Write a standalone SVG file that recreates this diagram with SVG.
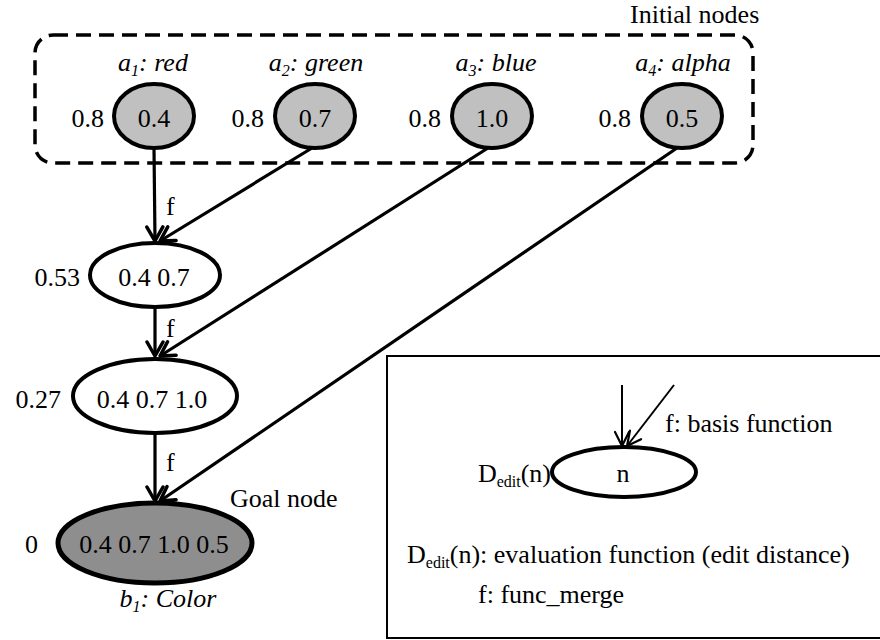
<svg xmlns="http://www.w3.org/2000/svg" width="880" height="640" viewBox="0 0 880 640" font-family="Liberation Serif" font-size="26">
  <defs>
    <marker id="head" markerUnits="userSpaceOnUse" markerWidth="30" markerHeight="30" refX="16" refY="10" orient="auto">
      <path d="M2,2 L16,10 L2,18" fill="none" stroke="#000" stroke-width="3.5" stroke-linecap="round" stroke-linejoin="round"/>
    </marker>
    <marker id="headThin" markerUnits="userSpaceOnUse" markerWidth="30" markerHeight="30" refX="16" refY="10" orient="auto">
      <path d="M2,3 L16,10 L2,17" fill="none" stroke="#000" stroke-width="2.2" stroke-linecap="round" stroke-linejoin="round"/>
    </marker>
  </defs>
  <style>
    .it { font-style: italic; }
    .mid { text-anchor: middle; }
    .end { text-anchor: end; }
    .sub { font-size: 16px; }
    .init { fill: #c0c0c0; stroke: #000; stroke-width: 4; }
    .plain { fill: #fff; stroke: #000; stroke-width: 4; }
    .goal { fill: #8e8e8e; stroke: #000; stroke-width: 5; }
    .edge { fill: none; stroke: #000; stroke-width: 3.2; marker-end: url(#head); }
    .thin { fill: none; stroke: #000; stroke-width: 2; marker-end: url(#headThin); }
  </style>

  <rect width="880" height="640" fill="#fff"/>

  <!-- group of initial nodes -->
  <rect x="35" y="35" width="718" height="128" rx="18" fill="none" stroke="#000" stroke-width="3.5" stroke-dasharray="15 8"/>
  <text x="630" y="23">Initial nodes</text>

  <g id="connectors">
    <line class="edge" x1="154" y1="148" x2="155" y2="241"/>
    <line class="edge" x1="312" y1="148" x2="160" y2="241"/>
    <line class="edge" x1="155" y1="307" x2="155" y2="356"/>
    <line class="edge" x1="488" y1="148" x2="160" y2="356"/>
    <line class="edge" x1="155" y1="433" x2="155" y2="501"/>
    <line class="edge" x1="677" y1="148" x2="160" y2="501"/>
    <text x="166" y="215">f</text>
    <text x="166" y="337">f</text>
    <text x="166" y="471">f</text>
  </g>

  <g id="a1">
    <ellipse class="init" cx="154" cy="116" rx="40" ry="32"/>
    <text class="mid" x="154" y="127">0.4</text>
    <text class="end" x="104" y="127">0.8</text>
    <text class="it mid" x="153" y="71">a<tspan class="sub" dy="5">1</tspan><tspan dy="-5">: red</tspan></text>
  </g>
  <g id="a2">
    <ellipse class="init" cx="315" cy="116" rx="40" ry="32"/>
    <text class="mid" x="315" y="127">0.7</text>
    <text class="end" x="264" y="127">0.8</text>
    <text class="it mid" x="316" y="71">a<tspan class="sub" dy="5">2</tspan><tspan dy="-5">: green</tspan></text>
  </g>
  <g id="a3">
    <ellipse class="init" cx="492" cy="116" rx="40" ry="32"/>
    <text class="mid" x="492" y="127">1.0</text>
    <text class="end" x="441" y="127">0.8</text>
    <text class="it mid" x="496" y="71">a<tspan class="sub" dy="5">3</tspan><tspan dy="-5">: blue</tspan></text>
  </g>
  <g id="a4">
    <ellipse class="init" cx="682" cy="116" rx="40" ry="32"/>
    <text class="mid" x="682" y="127">0.5</text>
    <text class="end" x="631" y="127">0.8</text>
    <text class="it mid" x="683" y="71">a<tspan class="sub" dy="5">4</tspan><tspan dy="-5">: alpha</tspan></text>
  </g>

  <g id="n2">
    <ellipse class="plain" cx="155" cy="275" rx="65" ry="32"/>
    <text class="mid" x="154" y="286">0.4 0.7</text>
    <text class="end" x="80" y="286">0.53</text>
  </g>
  <g id="n3">
    <ellipse class="plain" cx="155" cy="396" rx="82" ry="37"/>
    <text class="mid" x="152" y="408">0.4 0.7 1.0</text>
    <text class="end" x="61" y="408">0.27</text>
  </g>
  <g id="goal">
    <ellipse class="goal" cx="155" cy="543" rx="97" ry="40"/>
    <text class="mid" x="154" y="553">0.4 0.7 1.0 0.5</text>
    <text class="end" x="38" y="553">0</text>
    <text x="230" y="507">Goal node</text>
    <text class="it mid" x="168" y="607">b<tspan class="sub" dy="5">1</tspan><tspan dy="-5">: Color</tspan></text>
  </g>

  <g id="legend">
    <rect x="387" y="356" width="500" height="282" fill="none" stroke="#000" stroke-width="2"/>
    <line class="thin" x1="622" y1="385" x2="622" y2="446"/>
    <line class="thin" x1="674" y1="385" x2="627" y2="446"/>
    <ellipse class="plain" cx="624" cy="472" rx="72" ry="25"/>
    <text class="mid" x="623" y="482">n</text>
    <text x="665" y="432">f: basis function</text>
    <text class="end" x="551" y="482">D<tspan class="sub" dy="5">edit</tspan><tspan dy="-5">(n)</tspan></text>
    <text x="407" y="563">D<tspan class="sub" dy="5">edit</tspan><tspan dy="-5">(n): evaluation function (edit distance)</tspan></text>
    <text x="478" y="603">f: func_merge</text>
  </g>
</svg>
